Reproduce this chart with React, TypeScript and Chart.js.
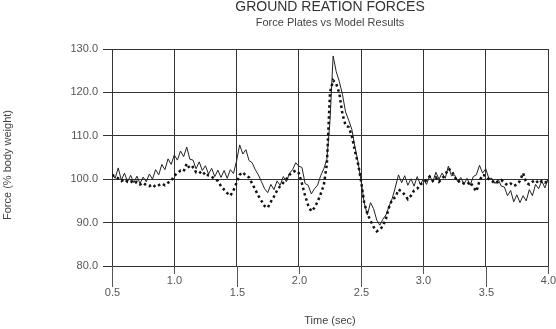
import React, { useEffect, useRef } from "react";
import { Chart, registerables } from "chart.js";

Chart.register(...registerables);

const TITLE = "GROUND REATION FORCES";
const SUBTITLE = "Force Plates vs Model Results";
const X_TITLE = "Time (sec)";
const Y_TITLE = "Force (% body weight)";

const T_START = 0.5;
const T_STEP = 0.025;

// Force plate measurement (solid line), one sample every 0.025 s from 0.5 s to 4.0 s
const PLATES = [
  101.5, 100.2, 102.6, 99.8, 101.4, 99.4, 100.9, 99.2, 100.7, 99.0,
  100.5, 99.4, 101.2, 100.0, 102.2, 101.0, 103.4, 102.2, 104.7, 103.4,
  105.6, 104.4, 106.5, 105.2, 107.4, 104.6, 104.4, 102.4, 104.0, 102.0,
  103.1, 101.2, 102.5, 100.6, 102.1, 100.4, 102.0, 100.2, 102.2, 101.3,
  104.2, 107.9, 105.8, 106.8, 104.3, 103.8, 102.2, 101.0, 99.4, 97.8,
  96.9, 98.8, 97.6, 99.6, 98.6, 100.6, 99.4, 101.4, 102.2, 103.8,
  103.0, 102.7, 99.0, 98.6, 96.6, 97.8, 98.6, 100.8, 102.4, 104.6,
  113.5, 128.4, 124.8, 122.5, 119.5, 115.5, 113.6, 111.5, 107.5, 104.0,
  99.5, 94.5, 91.8, 94.6, 93.2, 90.6, 89.4, 90.8, 91.8, 93.8,
  95.6, 98.2, 101.0, 99.2, 100.8, 98.6, 100.1, 98.4, 100.6, 98.8,
  100.0, 98.8, 100.8, 99.4, 101.6, 100.0, 101.4, 100.2, 103.0, 100.8,
  101.0, 99.4, 100.4, 98.8, 100.2, 98.6, 100.6, 101.0, 103.2, 101.4,
  102.4, 100.2, 100.2, 99.0, 100.0, 98.4, 98.2, 96.2, 97.4, 94.8,
  96.4, 94.6, 96.2, 95.0, 97.6, 96.2, 98.8, 97.8, 99.6, 98.0,
  100.0,
];

// Model result (dotted line), same sample times
const MODEL = [
  101.0, 100.6, 100.2, 99.6, 100.0, 99.4, 99.6, 99.0, 99.4, 98.8,
  99.2, 98.6, 98.4, 98.8, 98.2, 98.6, 99.0, 98.6, 99.2, 99.6,
  100.8, 101.4, 102.0, 101.8, 103.6, 102.4, 102.8, 101.6, 101.8, 101.0,
  101.6, 100.8, 100.6, 100.0, 99.6, 98.4, 97.6, 96.8, 96.2, 97.4,
  99.2, 101.0, 101.6, 100.8, 100.4, 99.0, 97.6, 96.2, 95.0, 93.8,
  93.4, 94.8, 96.0, 97.4, 98.4, 99.2, 100.0, 101.0, 101.6, 102.0,
  101.4, 99.0, 96.2, 94.0, 92.6, 93.4, 94.8, 96.6, 98.6, 103.5,
  120.0, 122.8, 122.0, 119.8, 115.0, 112.4, 112.0, 110.0, 106.5, 103.6,
  99.5, 94.5, 92.0, 90.5, 89.0, 88.0, 88.4, 89.2, 91.0, 93.6,
  95.4, 95.8, 97.6, 97.2, 96.4, 95.4, 96.2, 97.4, 97.8, 98.8,
  99.2, 99.8, 100.6, 99.6, 100.4, 99.4, 100.2, 101.0, 102.4, 102.0,
  100.6, 99.4, 99.6, 99.0, 98.8, 99.4, 98.2, 97.2, 99.6, 101.0,
  100.8, 100.0, 99.6, 99.0, 99.4, 99.8, 99.2, 98.6, 99.0, 98.4,
  98.8, 99.6, 101.4, 99.2, 98.8, 99.4, 99.8, 99.0, 99.6, 99.2,
  99.6,
];

const X_TICKS = [0.5, 1.0, 1.5, 2.0, 2.5, 3.0, 3.5, 4.0];
const Y_TICKS = [80, 90, 100, 110, 120, 130];

const FONT = '"Liberation Sans", Arial, Helvetica, sans-serif';

export default function App() {
  const ref = useRef<HTMLCanvasElement | null>(null);

  useEffect(() => {
    const canvas = ref.current;
    if (!canvas) return;
    const time = PLATES.map((_, i) => +(T_START + i * T_STEP).toFixed(4));

    const isHalf = (v: number) => Math.round(v * 2) % 2 === 1;

    const decor = {
      id: "decor",
      afterDraw(chart: any) {
        const ctx = chart.ctx;
        const xs = chart.scales.x;
        const area = chart.chartArea;
        ctx.save();
        // x tick marks (staggered lengths) and labels
        ctx.lineWidth = 1;
        ctx.strokeStyle = "#555";
        ctx.fillStyle = "#555";
        ctx.font = `11px ${FONT}`;
        ctx.textAlign = "center";
        ctx.textBaseline = "middle";
        for (const v of X_TICKS) {
          const px = Math.round(xs.getPixelForValue(v)) + 0.5;
          const half = isHalf(v);
          ctx.beginPath();
          ctx.moveTo(px, area.bottom);
          ctx.lineTo(px, area.bottom + (half ? 21 : 8));
          ctx.stroke();
          ctx.fillText(v.toFixed(1), px, area.bottom + (half ? 27 : 15));
        }
        const cx = (area.left + area.right) / 2;
        ctx.fillStyle = "#333";
        ctx.font = `14px ${FONT}`;
        ctx.fillText(TITLE, cx, 7);
        ctx.fillStyle = "#444";
        ctx.font = `11px ${FONT}`;
        ctx.fillText(SUBTITLE, cx, 23);
        ctx.fillText(X_TITLE, cx, 321);
        ctx.translate(8, 165);
        ctx.rotate(-Math.PI / 2);
        ctx.fillText(Y_TITLE, 0, 0);
        ctx.restore();
      },
    };

    const chart = new Chart(canvas, {
      type: "line",
      data: {
        datasets: [
          {
            label: "Model Results",
            data: time.map((t, i) => ({ x: t, y: MODEL[i] })),
            borderColor: "#111",
            borderWidth: 2.5,
            borderDash: [2.5, 3],
            borderCapStyle: "butt",
            pointRadius: 0,
            tension: 0,
            fill: false,
          },
          {
            label: "Force Plates",
            data: time.map((t, i) => ({ x: t, y: PLATES[i] })),
            borderColor: "#222",
            borderWidth: 1,
            pointRadius: 0,
            tension: 0,
            fill: false,
          },
        ],
      },
      options: {
        responsive: false,
        animation: false,
        layout: { padding: { top: 49, right: 8, left: 0, bottom: 0 } },
        plugins: {
          legend: { display: false },
          tooltip: { enabled: false },
          title: { display: false },
        },
        scales: {
          x: {
            type: "linear",
            min: 0.5,
            max: 4.0,
            afterBuildTicks: (s: any) => {
              s.ticks = X_TICKS.map((v) => ({ value: v }));
            },
            afterFit: (s: any) => {
              s.height = 63;
            },
            grid: { color: "#333", lineWidth: 1, drawTicks: false },
            border: { display: true, color: "#333", width: 1 },
            ticks: { display: false, autoSkip: false },
          },
          y: {
            min: 80,
            max: 130,
            afterBuildTicks: (s: any) => {
              s.ticks = Y_TICKS.map((v) => ({ value: v }));
            },
            afterFit: (s: any) => {
              s.width = 112;
            },
            grid: { color: "#333", lineWidth: 1, drawTicks: true, tickLength: 9 },
            border: { display: true, color: "#333", width: 1 },
            ticks: {
              padding: 5,
              color: "#555",
              font: { family: FONT, size: 11 },
              callback: (v: any) => Number(v).toFixed(1),
            },
          },
        },
      },
      plugins: [decor],
    } as any);

    return () => chart.destroy();
  }, []);

  return (
    <div style={{ position: "absolute", left: 0, top: 0, width: 556, height: 329, background: "#fff" }}>
      <canvas ref={ref} width={556} height={329} />
    </div>
  );
}
